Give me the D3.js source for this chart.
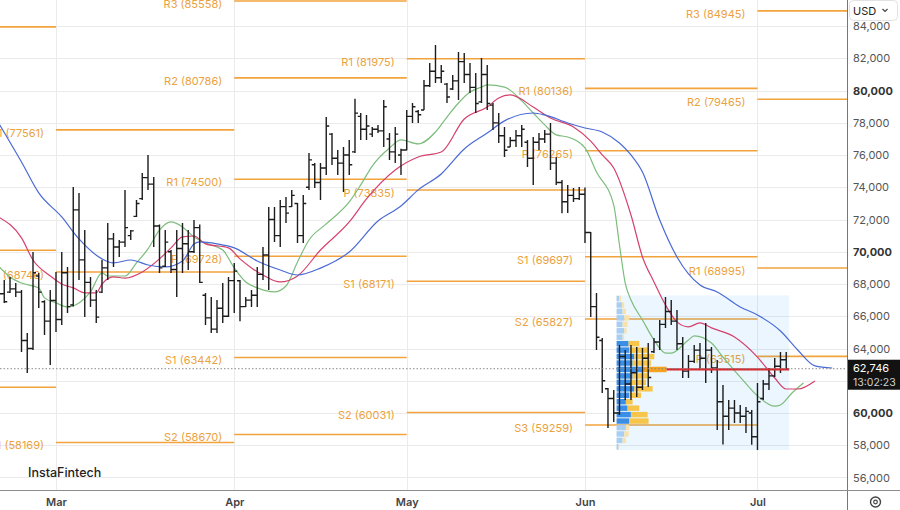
<!DOCTYPE html>
<html><head><meta charset="utf-8">
<script src="https://cdn.jsdelivr.net/npm/d3@7"></script>
<style>
html,body{margin:0;padding:0;background:#fff;}
svg{display:block;font-family:Inter,"Noto Sans",sans-serif;}
</style></head><body>
<svg id="chart" width="900" height="510"></svg>
<script>
// ---------------- DATA ----------------
const startDate = "2024-02-20"; // first daily bar, one bar per day
const open  = [68000,67400,67500,67700,67500,64500,64000,68500,66900,65700,
  66980,65800,68700,66700,72600,69500,68100,67000,67500,69000,70800,70300,70600,71000,72200,73300,74600,74200,71600,69100,70000,68900,70200,70500,70000,71500,67300,65900,65200,66500,66000,
  68214,68200,66600,67000,67300,68600,69800,72000,71000,72800,72800,73000,71000,74000,75400,74300,75200,77300,75800,75500,76000,76200,78400,77600,77300,77600,77500,77000,76200,76000,
  76311,78400,78700,78800,80300,81200,80800,80400,80100,80600,81800,81000,80200,79300,81000,79100,78000,77200,76500,76900,77200,76800,75800,76800,77000,77300,75500,74300,73100,73500,73300,
  73568,71200,66600,64500,61500,60900,60000,63500,61800,62500,61600,63400,63800,64400,65500,66300,65700,64300,62600,63200,63900,63400,63900,62800,60700,59800,60300,60000,59800,60000,
  58525,60900,61800,62300,62900,63300];
const high  = [68400,68250,68430,68060,67630,64960,69990,68680,67000,67630,
  68750,69990,69060,74020,73650,71350,68440,67630,69490,71790,71170,70730,73840,71350,73210,74890,76010,74640,71700,71350,70110,71350,71790,71350,71970,71700,67440,67200,67010,68060,68440,
  69310,68250,67200,67630,69060,70300,72780,72780,73210,73400,73840,73030,73530,76130,75510,75510,78360,77370,76320,76500,76940,79499,78610,78490,77740,77870,79420,77370,77740,76400,
  78800,79230,78800,80660,81710,82833,81590,80470,80970,82400,82330,81710,81090,82020,81590,79230,78610,77740,77120,77560,77870,76940,77120,77370,77560,77990,75880,74460,74150,73960,74020,
  73985,71230,67440,64650,61550,61430,64220,63910,64220,64100,64030,64340,64650,65770,67200,67010,66390,64720,63600,64220,64340,65580,64100,63290,61740,60810,60810,60500,60370,60190,
  61860,62050,62790,63410,63790,63790];
const low   = [66900,66830,67440,67200,63790,62480,63910,66520,64840,62980,
  65030,65460,66200,66600,68250,65960,66580,65580,67440,68250,69060,69680,70300,70730,72160,73210,73840,70300,68680,69060,68680,67200,68680,68870,69930,68060,65460,64960,64956,65580,65950,
  66200,65695,66580,66580,66580,68250,67630,70610,70300,71790,72780,70540,70540,73840,73960,73210,74770,75390,74770,73710,74770,76130,76940,76940,77120,77370,76500,75700,75510,74770,
  76300,77990,77990,78800,80220,80470,80470,79230,80040,79420,80470,79850,78610,79230,78800,77560,76750,75880,76500,76500,76500,75260,74150,76320,76750,75080,74150,72394,72400,73090,73210,
  70540,65960,63910,61240,59070,59440,59880,60810,60810,60990,61430,61610,63720,63910,65270,65460,63910,62170,62170,63100,62670,61860,62480,58950,58040,58950,59380,59380,58760,58035,
  57710,60810,61430,62240,62480,62670];
const close = [67400,66900,67700,67500,64500,64000,68700,67500,65700,66980,
  65800,68700,66600,72600,69500,68100,67000,65950,69000,70800,70300,70600,71500,71300,73000,74600,74200,71600,69000,70600,68900,70200,70500,70000,71500,68100,65900,65200,66500,66000,68214,
  68800,66600,67000,67300,68600,69800,72000,71000,72800,72400,73500,71000,73000,75700,74300,75200,77800,75800,75500,76000,75400,78600,77600,77800,77600,77500,79000,76200,77300,76311,
  78400,79000,78500,80300,81200,80800,81200,79600,80600,81800,81000,80200,79200,81000,79200,78000,77200,76300,76900,77200,77600,75800,76800,77000,77300,75500,74300,73100,73500,73300,73568,
  71200,66600,64700,62000,60900,60000,63500,61800,62500,61600,63400,62200,64400,65500,66300,65700,64300,62600,63200,63900,63400,63900,62800,60700,59800,60300,60000,59800,60100,58525,
  60700,61800,62300,62900,63300,62746];

// Alligator-style moving averages: [date, value]
const jawBlue = [["2024-02-20",78000],["2024-02-24",75570],["2024-02-27",73650],["2024-03-02",72160],["2024-03-05",70800],["2024-03-09",69560],["2024-03-11",69310],["2024-03-14",69490],["2024-03-17",69180],["2024-03-20",69060],["2024-03-23",69430],["2024-03-25",70490],["2024-03-26",70610],["2024-03-29",70490],["2024-04-01",70240],["2024-04-05",69430],["2024-04-09",68870],["2024-04-12",68560],["2024-04-16",68990],["2024-04-21",69990],["2024-04-26",71910],["2024-04-30",72840],["2024-05-03",73840],["2024-05-07",74830],["2024-05-11",76380],["2024-05-15",77370],["2024-05-18",78120],["2024-05-23",78610],["2024-05-25",78490],["2024-05-29",77990],["2024-06-01",77680],["2024-06-04",77430],["2024-06-07",76750],["2024-06-09",76010],["2024-06-11",74950],["2024-06-14",71970],["2024-06-17",69680],["2024-06-21",67940],["2024-06-24",67510],["2024-06-28",66580],["2024-07-01",66080],["2024-07-05",65090],["2024-07-08",63910],["2024-07-11",62920],["2024-07-14",62790]];
const teethRed = [["2024-02-20",72160],["2024-02-24",70860],["2024-02-26",69490],["2024-02-29",68500],["2024-03-02",68000],["2024-03-04",67760],["2024-03-06",67450],["2024-03-08",67450],["2024-03-09",68000],["2024-03-11",68440],["2024-03-13",68370],["2024-03-16",68750],["2024-03-19",69560],["2024-03-21",70240],["2024-03-23",70920],["2024-03-25",70980],["2024-03-27",70490],["2024-03-31",70240],["2024-04-02",69560],["2024-04-04",69000],["2024-04-06",68560],["2024-04-09",68130],["2024-04-12",68500],["2024-04-16",70110],["2024-04-21",71850],["2024-04-24",73280],["2024-04-29",75080],["2024-05-03",75880],["2024-05-07",76190],["2024-05-11",78240],["2024-05-15",78980],["2024-05-17",79540],["2024-05-19",79730],["2024-05-23",78980],["2024-05-26",78300],["2024-05-30",77740],["2024-06-02",76870],["2024-06-04",76010],["2024-06-06",75200],["2024-06-09",72280],["2024-06-11",69680],["2024-06-13",68130],["2024-06-15",66700],["2024-06-17",65650],["2024-06-19",65340],["2024-06-21",65590],["2024-06-23",65280],["2024-06-27",64720],["2024-07-01",63470],["2024-07-04",62170],["2024-07-06",61490],["2024-07-08",61490],["2024-07-11",61990]];
const lipsGreen = [["2024-02-20",69120],["2024-02-22",68440],["2024-02-24",68060],["2024-02-27",67760],["2024-02-28",67140],["2024-03-01",66830],["2024-03-03",66580],["2024-03-05",66830],["2024-03-07",67510],["2024-03-09",68690],["2024-03-10",68500],["2024-03-13",68500],["2024-03-15",69310],["2024-03-17",70180],["2024-03-19",71350],["2024-03-21",71850],["2024-03-23",71540],["2024-03-25",70920],["2024-03-27",70550],["2024-03-29",70300],["2024-03-30",70110],["2024-04-01",69000],["2024-04-03",68130],["2024-04-05",67760],["2024-04-08",67510],["2024-04-10",67880],["2024-04-12",69370],["2024-04-14",70730],["2024-04-17",71730],["2024-04-21",73090],["2024-04-23",74150],["2024-04-25",75320],["2024-04-28",76440],["2024-04-30",76940],["2024-05-03",76690],["2024-05-06",77430],["2024-05-08",78360],["2024-05-10",79230],["2024-05-12",79910],["2024-05-14",80220],["2024-05-15",80350],["2024-05-18",80220],["2024-05-21",79360],["2024-05-23",78610],["2024-05-25",77870],["2024-05-27",77250],["2024-05-29",77120],["2024-06-01",76440],["2024-06-03",74950],["2024-06-06",72900],["2024-06-07",70420],["2024-06-08",68060],["2024-06-09",67010],["2024-06-11",65770],["2024-06-13",64530],["2024-06-15",63720],["2024-06-16",63720],["2024-06-19",64530],["2024-06-20",64780],["2024-06-23",64340],["2024-06-25",63470],["2024-06-28",62230],["2024-07-01",61060],["2024-07-04",60430],["2024-07-05",60500],["2024-07-07",61240],["2024-07-09",61860]];

// Monthly pivot levels (February's labels lie left of the visible window)
const pivotStarts = ["2024-02-01","2024-03-01","2024-04-01","2024-05-01","2024-06-01","2024-07-01"];
const pivotFeb = [["R1",83950],["P",70100],["S1",61600]];
const pivotMar = [["R1",77561],["P",68746],["S1",58169]];
const pivotApr = [["R3",85558],["R2",80786],["R1",74500],["P",69728],["S1",63442],["S2",58670]];
const pivotMay = [["R1",81975],["P",73835],["S1",68171],["S2",60031]];
const pivotJun = [["R1",80136],["P",76265],["S1",69697],["S2",65827],["S3",59259]];
const pivotJul = [["R3",84945],["R2",79465],["R1",68995],["P",63515]];

// Volume profile (fixed range)
const vpRange = ["2024-06-07","2024-07-06"];
const vpTopPrice = 67300, vpBinSize = 400;
const vpBuy  = [27,53,60,77,60,77,60,120,127,177,160,253,160,143,177,127,93,110,143,127,93,77,60,20];
const vpSell = [17,23,33,50,50,23,15,107,183,200,183,247,150,150,183,117,67,117,167,193,33,43,33,5];
const vpValueArea = [7,19]; // row indices inside value area
const vpPocRow = 11;

const priceTicks = [56000,58000,60000,62000,64000,66000,68000,70000,72000,74000,76000,78000,80000,82000,84000];
const monthTicks = ["2024-03-01","2024-04-01","2024-05-01","2024-06-01","2024-07-01"];
const lastPrice = 62746, lastTime = "13:02:23", currency = "USD", brand = "InstaFintech";

// ---------------- CHART ----------------
const svg = d3.select("#chart");
const plotR = 847, plotB = 490;
const parse = d3.utcParse("%Y-%m-%d");
const DAY = 864e5, mar1 = Date.UTC(2024,2,1);
const x = d3.scaleUtc().domain([new Date(mar1 - 9.74*DAY), new Date(mar1 + 137.57*DAY)]).range([0, plotR]);
const y = d3.scaleLinear().domain([55223, 85620]).range([plotB, 0]);

const defs = svg.append("defs");
defs.append("clipPath").attr("id","plot").append("rect").attr("x",0).attr("y",0).attr("width",plotR).attr("height",plotB);

const gPlot = svg.append("g").attr("clip-path","url(#plot)");

// grid
gPlot.append("g").selectAll("line").data(priceTicks).join("line")
  .attr("x1",0).attr("x2",plotR).attr("y1",d=>Math.round(y(d))+0.5).attr("y2",d=>Math.round(y(d))+0.5)
  .attr("stroke","#ebebeb").attr("stroke-width",1);
gPlot.append("g").selectAll("line").data(monthTicks).join("line")
  .attr("y1",0).attr("y2",plotB).attr("x1",d=>Math.round(x(parse(d)))+0.5).attr("x2",d=>Math.round(x(parse(d)))+0.5)
  .attr("stroke","#ebebeb").attr("stroke-width",1);

// pivots
const pivotSets = [pivotFeb,pivotMar,pivotApr,pivotMay,pivotJun,pivotJul];
const pivColor = "#f2a33c";
pivotSets.forEach((set,i)=>{
  const x0 = x(parse(pivotStarts[i]));
  const x1 = i < pivotStarts.length-1 ? x(parse(pivotStarts[i+1])) : plotR;
  const g = gPlot.append("g");
  g.selectAll("line").data(set).join("line")
    .attr("x1",x0).attr("x2",x1).attr("y1",d=>y(d[1])).attr("y2",d=>y(d[1]))
    .attr("stroke",pivColor).attr("stroke-width",1.6);
  if (x0 - 12 > 20) { // label only when its anchor lies inside the window
    g.selectAll("text").data(set).join("text")
      .attr("x",x0-12).attr("y",d=>y(d[1])+3).attr("dy","0.35em")
      .attr("text-anchor","end").attr("font-size",11).attr("fill","#eba23e")
      .text(d=>`${d[0]} (${d[1]})`);
  }
});

// volume profile
const vpX0 = x(d3.utcHour.offset(parse(vpRange[0]),-12));
const vpX1 = x(d3.utcHour.offset(parse(vpRange[1]),12));
const vpYTop = y(vpTopPrice), vpYBot = y(vpTopPrice - vpBinSize*vpBuy.length);
gPlot.append("rect").attr("x",vpX0).attr("y",vpYTop).attr("width",vpX1-vpX0).attr("height",vpYBot-vpYTop)
  .attr("fill","#2196f3").attr("fill-opacity",0.09);
const vw = d3.scaleLinear().domain([0,100]).range([0,10]);
const gVP = gPlot.append("g");
vpBuy.forEach((b,i)=>{
  const top = y(vpTopPrice - vpBinSize*i), bot = y(vpTopPrice - vpBinSize*(i+1));
  const inVA = i>=vpValueArea[0] && i<=vpValueArea[1];
  const hgt = bot-top-1;
  gVP.append("rect").attr("x",vpX0).attr("y",top+0.5).attr("width",vw(b)).attr("height",hgt)
    .attr("fill", inVA ? "#3a8ee6" : "#a8cff3");
  gVP.append("rect").attr("x",vpX0+vw(b)).attr("y",top+0.5).attr("width",vw(vpSell[i])).attr("height",hgt)
    .attr("fill", i===vpPocRow ? "#f5a21f" : (inVA ? "#f7c54a" : "#f8e2aa"));
});

// moving averages
const maLine = d3.line().x(d=>x(parse(d[0]))).y(d=>y(d[1])).curve(d3.curveMonotoneX);
[[lipsGreen,"#7cbd7c"],[teethRed,"#d4416c"],[jawBlue,"#4a6ad6"]].forEach(([data,c])=>{
  gPlot.append("path").attr("d",maLine(data)).attr("fill","none").attr("stroke",c).attr("stroke-width",1.2);
});

// OHLC bars
const dates = open.map((_,i)=>d3.utcDay.offset(parse(startDate), i));
const barPath = dates.map((d,i)=>{
  const cx = x(d);
  return `M${cx},${y(high[i])}V${y(low[i])}M${cx-3},${y(open[i])}H${cx}M${cx},${y(close[i])}H${cx+3}`;
}).join("");
gPlot.append("path").attr("d",barPath).attr("fill","none").attr("stroke","#1c1c1c").attr("stroke-width",1.4);

// POC line
const pocY = y(vpTopPrice - vpBinSize*(vpPocRow+0.5));
gPlot.append("line").attr("x1",vpX0+vw(vpBuy[vpPocRow]+vpSell[vpPocRow])).attr("x2",vpX1)
  .attr("y1",pocY).attr("y2",pocY).attr("stroke","#d9262c").attr("stroke-width",2.2);

// last price dotted line
svg.append("line").attr("x1",0).attr("x2",plotR).attr("y1",y(lastPrice)).attr("y2",y(lastPrice))
  .attr("stroke","#8a8a8a").attr("stroke-width",1).attr("stroke-dasharray","1.5,2");

// brand
svg.append("text").attr("x",28).attr("y",477).attr("font-size",12.5).attr("font-weight",500)
  .attr("fill","#1f1f1f").text(brand);

// axes frame
svg.append("line").attr("x1",plotR+0.5).attr("x2",plotR+0.5).attr("y1",0).attr("y2",510).attr("stroke","#777");
svg.append("line").attr("x1",0).attr("x2",900).attr("y1",plotB+0.5).attr("y2",plotB+0.5).attr("stroke","#8d8d8d");

// right axis (the tick hidden under the last-price tag is skipped)
const ly = y(lastPrice);
const shownTicks = priceTicks.filter(v => Math.abs(y(v) - (ly+6)) > 16);
const yAxis = d3.axisRight(y).tickValues(shownTicks).tickFormat(d3.format(",")).tickSize(0).tickPadding(6);
const gy = svg.append("g").attr("transform",`translate(${plotR},0)`).call(yAxis);
gy.select(".domain").remove();
gy.selectAll("text").attr("font-size",11).attr("font-family","Inter,'Noto Sans',sans-serif")
  .attr("font-weight",d=>d%10000===0?700:400).attr("fill",d=>d%10000===0?"#333":"#555");

// bottom axis
const xAxis = d3.axisBottom(x).tickValues(monthTicks.map(parse)).tickFormat(d3.utcFormat("%b")).tickSize(0).tickPadding(8);
const gx = svg.append("g").attr("transform",`translate(0,${plotB})`).call(xAxis);
gx.select(".domain").remove();
gx.selectAll("text").attr("font-size",11).attr("font-weight",600).attr("fill","#444").attr("font-family","Inter,'Noto Sans',sans-serif");

// currency box
svg.append("rect").attr("x",849.5).attr("y",0.5).attr("width",48).attr("height",20).attr("rx",4)
  .attr("fill","#fff").attr("stroke","#e2e2e2");
svg.append("text").attr("x",853).attr("y",14.5).attr("font-size",11).attr("fill","#222").text(currency);
svg.append("path").attr("d","M882.5,9 L885,11.5 L887.5,9").attr("fill","none").attr("stroke","#444").attr("stroke-width",1.2);

// last price tag
svg.append("rect").attr("x",848).attr("y",ly-9).attr("width",52).attr("height",30).attr("fill","#121212");
svg.append("text").attr("x",853).attr("y",ly+3).attr("font-size",11).attr("fill","#fff").text(d3.format(",")(lastPrice));
svg.append("text").attr("x",853).attr("y",ly+17).attr("font-size",10.5).attr("fill","#d0d0d0").text(lastTime);

// settings icon
svg.append("circle").attr("cx",875.5).attr("cy",502).attr("r",5).attr("fill","none").attr("stroke","#444").attr("stroke-width",1.4);
svg.append("circle").attr("cx",875.5).attr("cy",502).attr("r",1.8).attr("fill","none").attr("stroke","#444").attr("stroke-width",1.2);
</script>
</body></html>
